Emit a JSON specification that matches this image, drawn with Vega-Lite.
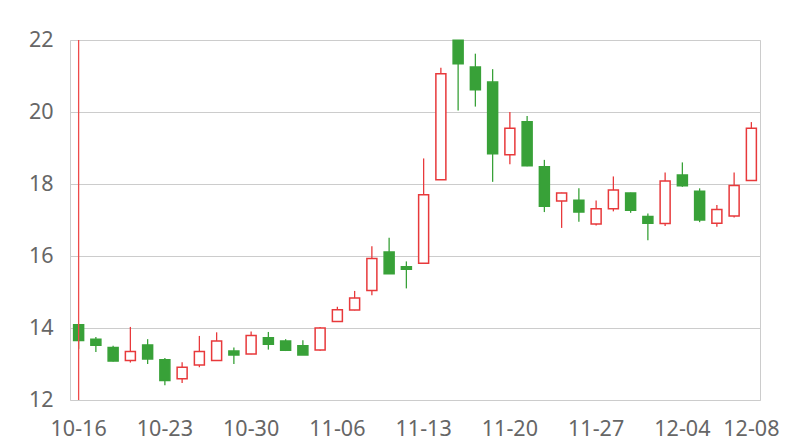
{
  "$schema": "https://vega.github.io/schema/vega-lite/v6.json",
  "autosize": "none",
  "width": 690,
  "height": 360,
  "padding": {"left": 70, "top": 40, "right": 40, "bottom": 40},
  "background": "white",
  "config": {
    "view": {"stroke": "#cccccc", "strokeWidth": 1},
    "axis": {"labelFont": "Noto Sans", "labelFontSize": 21.5, "labelColor": "#666666", "title": null}
  },
  "datasets": {
    "candles": [
      {"date": "10-16", "open": 14.09, "close": 13.65, "high": 14.10, "low": 13.42},
      {"date": "10-17", "open": 13.69, "close": 13.52, "high": 13.75, "low": 13.33},
      {"date": "10-18", "open": 13.46, "close": 13.08, "high": 13.51, "low": 13.07},
      {"date": "10-19", "open": 13.10, "close": 13.35, "high": 14.03, "low": 13.04},
      {"date": "10-20", "open": 13.53, "close": 13.14, "high": 13.69, "low": 13.00},
      {"date": "10-23", "open": 13.12, "close": 12.54, "high": 13.17, "low": 12.41},
      {"date": "10-24", "open": 12.59, "close": 12.91, "high": 13.05, "low": 12.47},
      {"date": "10-25", "open": 12.97, "close": 13.35, "high": 13.78, "low": 12.91},
      {"date": "10-26", "open": 13.10, "close": 13.64, "high": 13.88, "low": 13.09},
      {"date": "10-27", "open": 13.36, "close": 13.25, "high": 13.46, "low": 13.00},
      {"date": "10-30", "open": 13.28, "close": 13.79, "high": 13.90, "low": 13.27},
      {"date": "10-31", "open": 13.73, "close": 13.55, "high": 13.89, "low": 13.40},
      {"date": "11-01", "open": 13.64, "close": 13.38, "high": 13.69, "low": 13.36},
      {"date": "11-02", "open": 13.51, "close": 13.25, "high": 13.66, "low": 13.25},
      {"date": "11-03", "open": 13.39, "close": 14.00, "high": 14.03, "low": 13.37},
      {"date": "11-06", "open": 14.18, "close": 14.51, "high": 14.59, "low": 14.17},
      {"date": "11-07", "open": 14.50, "close": 14.83, "high": 15.03, "low": 14.49},
      {"date": "11-08", "open": 15.04, "close": 15.93, "high": 16.27, "low": 14.91},
      {"date": "11-09", "open": 16.11, "close": 15.51, "high": 16.51, "low": 15.50},
      {"date": "11-10", "open": 15.70, "close": 15.63, "high": 15.85, "low": 15.10},
      {"date": "11-13", "open": 15.80, "close": 17.70, "high": 18.71, "low": 15.79},
      {"date": "11-14", "open": 18.12, "close": 21.06, "high": 21.23, "low": 18.11},
      {"date": "11-15", "open": 21.99, "close": 21.34, "high": 22.00, "low": 20.04},
      {"date": "11-16", "open": 21.25, "close": 20.62, "high": 21.62, "low": 20.15},
      {"date": "11-17", "open": 20.83, "close": 18.84, "high": 21.19, "low": 18.06},
      {"date": "11-20", "open": 18.81, "close": 19.55, "high": 20.00, "low": 18.55},
      {"date": "11-21", "open": 19.73, "close": 18.51, "high": 19.89, "low": 18.49},
      {"date": "11-22", "open": 18.48, "close": 17.38, "high": 18.67, "low": 17.22},
      {"date": "11-23", "open": 17.53, "close": 17.75, "high": 17.76, "low": 16.78},
      {"date": "11-24", "open": 17.55, "close": 17.22, "high": 17.88, "low": 16.95},
      {"date": "11-27", "open": 16.89, "close": 17.31, "high": 17.54, "low": 16.85},
      {"date": "11-28", "open": 17.31, "close": 17.83, "high": 18.21, "low": 17.24},
      {"date": "11-29", "open": 17.75, "close": 17.27, "high": 17.76, "low": 17.20},
      {"date": "11-30", "open": 17.10, "close": 16.91, "high": 17.18, "low": 16.44},
      {"date": "12-01", "open": 16.90, "close": 18.08, "high": 18.32, "low": 16.83},
      {"date": "12-04", "open": 18.25, "close": 17.95, "high": 18.60, "low": 17.92},
      {"date": "12-05", "open": 17.80, "close": 17.00, "high": 17.88, "low": 16.94},
      {"date": "12-06", "open": 16.91, "close": 17.29, "high": 17.42, "low": 16.81},
      {"date": "12-07", "open": 17.11, "close": 17.96, "high": 18.32, "low": 17.07},
      {"date": "12-08", "open": 18.10, "close": 19.55, "high": 19.72, "low": 18.09}
    ],
    "marker": [{"date": "10-16"}]
  },
  "encoding": {
    "x": {
      "field": "date",
      "type": "ordinal",
      "scale": {"type": "band", "paddingInner": 0, "paddingOuter": 0},
      "axis": {
        "values": ["10-16", "10-23", "10-30", "11-06", "11-13", "11-20", "11-27", "12-04", "12-08"],
        "labelAngle": 0,
        "ticks": false,
        "tickSize": 0,
        "domain": false,
        "grid": false,
        "labelPadding": 18,
        "labelOverlap": false,
        "labelBound": false,
        "labelFlush": false
      }
    }
  },
  "layer": [
    {
      "data": {"name": "candles"},
      "mark": {"type": "rule", "strokeWidth": 1.3},
      "encoding": {
        "y": {
          "field": "low",
          "type": "quantitative",
          "scale": {"domain": [12, 22], "nice": false, "zero": false},
          "axis": {
            "values": [12, 14, 16, 18, 20, 22],
            "grid": true,
            "gridColor": "#cccccc",
            "gridWidth": 1,
            "ticks": false,
            "tickSize": 0,
            "domain": false,
            "labelPadding": 17
          }
        },
        "y2": {"field": "high"},
        "stroke": {"condition": {"test": "datum.close > datum.open", "value": "#e8393b"}, "value": "#38a138"}
      }
    },
    {
      "data": {"name": "candles"},
      "mark": {"type": "bar", "size": 10, "strokeWidth": 1.5},
      "encoding": {
        "y": {"field": "open", "type": "quantitative"},
        "y2": {"field": "close"},
        "fill": {"condition": {"test": "datum.close > datum.open", "value": "#ffffff"}, "value": "#38a138"},
        "stroke": {"condition": {"test": "datum.close > datum.open", "value": "#e8393b"}, "value": "#38a138"}
      }
    },
    {
      "data": {"name": "marker"},
      "mark": {"type": "rule", "stroke": "#ee4a4a", "strokeWidth": 1.3},
      "encoding": {}
    }
  ]
}
